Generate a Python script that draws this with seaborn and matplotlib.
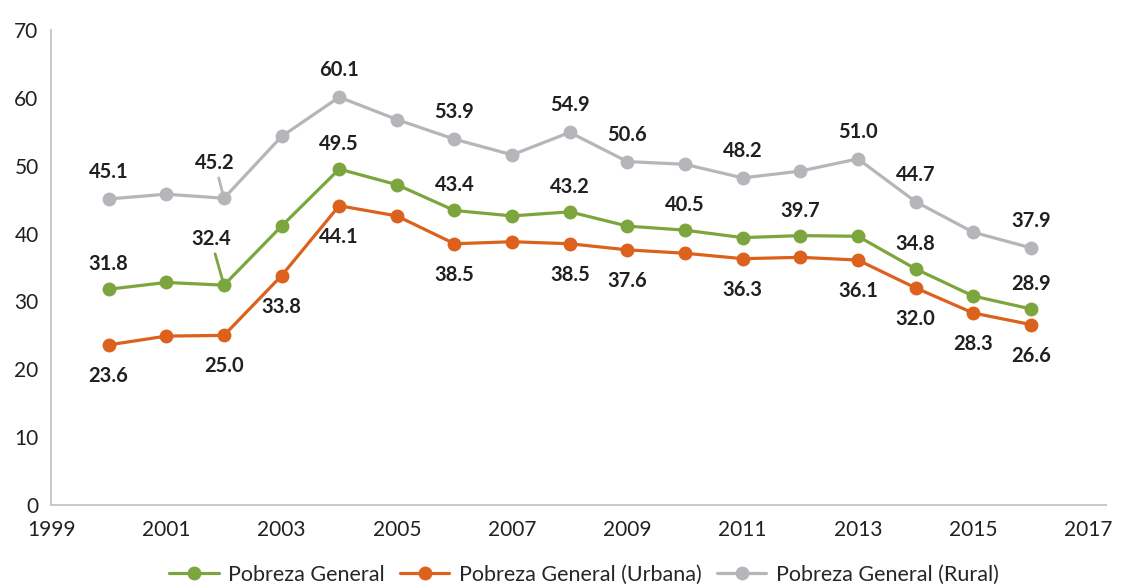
import pandas as pd
import matplotlib
matplotlib.use("Agg")
import matplotlib.pyplot as plt
import seaborn as sns

# Datos (porcentaje de pobreza)
years = list(range(2000, 2017))
general = [31.8, 32.8, 32.4, 41.1, 49.5, 47.2, 43.4, 42.6, 43.2, 41.1, 40.5, 39.4, 39.7, 39.6, 34.8, 30.8, 28.9]
urbana = [23.6, 24.9, 25.0, 33.8, 44.1, 42.6, 38.5, 38.8, 38.5, 37.6, 37.1, 36.3, 36.5, 36.1, 32.0, 28.3, 26.6]
rural = [45.1, 45.8, 45.2, 54.3, 60.1, 56.8, 53.9, 51.6, 54.9, 50.6, 50.2, 48.2, 49.2, 51.0, 44.7, 40.2, 37.9]

series_names = ["Pobreza General", "Pobreza General (Urbana)", "Pobreza General (Rural)"]
colors = ["#7CA63D", "#DC611C", "#B5B6BA"]

# años con etiqueta de dato
general_lab = [2000, 2002, 2004, 2006, 2008, 2010, 2012, 2014, 2016]
urbana_lab = [2000, 2002, 2003, 2004, 2006, 2008, 2009, 2011, 2013, 2014, 2015, 2016]
rural_lab = [2000, 2002, 2004, 2006, 2008, 2009, 2011, 2013, 2014, 2016]

x_ticks = list(range(1999, 2018, 2))
y_ticks = list(range(0, 71, 10))

df = pd.DataFrame({
    "year": years * 3,
    "value": general + urbana + rural,
    "serie": [series_names[0]] * 17 + [series_names[1]] * 17 + [series_names[2]] * 17,
})

sns.set_style("white")
plt.rcParams["font.family"] = ["Lato", "DejaVu Sans"]

fig = plt.figure(figsize=(11.22, 5.86), dpi=100)
ax = fig.add_axes([0.0455, 0.138, 0.940, 0.811])

sns.lineplot(data=df, x="year", y="value", hue="serie", hue_order=series_names,
             palette=colors, marker="o", markersize=10, markeredgewidth=0,
             linewidth=2.3, ax=ax, legend=True)

ax.set_xlim(1999, 2017.3)
ax.set_ylim(0, 70)
ax.set_xticks(x_ticks)
ax.set_yticks(y_ticks)
ax.set_xlabel("")
ax.set_ylabel("")
ax.tick_params(axis="both", length=0, labelsize=15, colors="#231F20")
ax.tick_params(axis="x", pad=11)
ax.tick_params(axis="y", pad=9)
for side in ["top", "right"]:
    ax.spines[side].set_visible(False)
for side in ["left", "bottom"]:
    ax.spines[side].set_color("#C8C8C8")
    ax.spines[side].set_linewidth(1.4)

# etiquetas de datos
lab_style = dict(ha="center", va="center", fontsize=14.5, fontweight="bold",
                 color="#231F20", textcoords="offset pixels")
for vals, labs, dy, col in [(general, general_lab, 25, colors[0]),
                            (urbana, urbana_lab, -31, colors[1]),
                            (rural, rural_lab, 27, colors[2])]:
    for yr in labs:
        v = vals[years.index(yr)]
        if yr == 2002 and dy > 0:
            # etiqueta desplazada con línea guía
            off = (-13, 46) if vals is general else (-9, 35)
            ax.annotate(f"{v:.1f}", xy=(yr, v), xytext=off,
                        arrowprops=dict(arrowstyle="-", color=col, lw=2,
                                        shrinkA=1, shrinkB=2), **lab_style)
        else:
            ax.annotate(f"{v:.1f}", xy=(yr, v), xytext=(0, dy), **lab_style)

handles, labels = ax.get_legend_handles_labels()
ax.legend(handles, labels, loc="center", bbox_to_anchor=(584 / 1122, 11 / 586),
          bbox_transform=fig.transFigure, ncol=3, frameon=False, fontsize=15.5,
          handlelength=2.3, handletextpad=0.45, columnspacing=0.7)

fig.savefig("out.png", dpi=100)
